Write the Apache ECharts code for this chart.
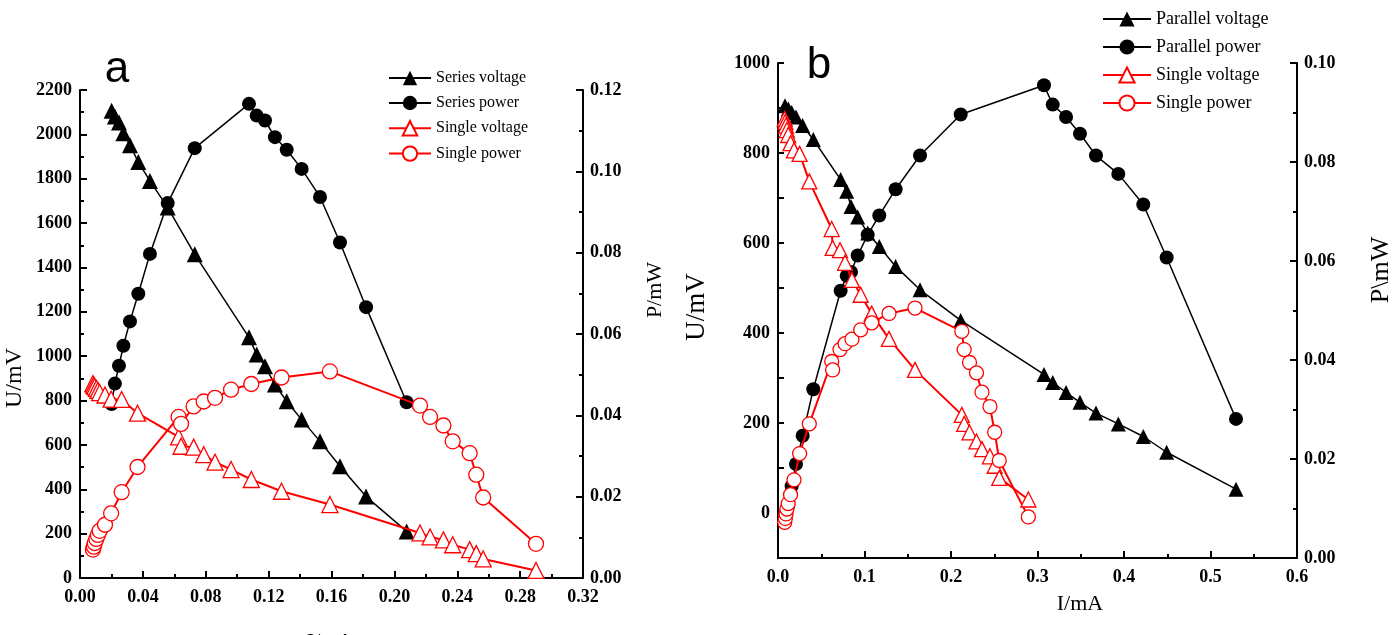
<!DOCTYPE html>
<html>
<head>
<meta charset="utf-8">
<script src="https://cdn.jsdelivr.net/npm/echarts@6/dist/echarts.min.js"></script>
<style>
html,body{margin:0;padding:0;background:#fff;}
#chart{width:1399px;height:635px;}
</style>
</head>
<body>
<div id="chart"></div>
<script>
// ---------- Panel a : series connection ----------
const seriesCurrent = [0.0201, 0.0222, 0.0248, 0.0276, 0.0318, 0.0371, 0.0445, 0.0558, 0.0730, 0.1075, 0.1124, 0.1177, 0.1240, 0.1315, 0.1410, 0.1527, 0.1654, 0.1820, 0.2078];
const seriesVoltage = [2106, 2080, 2053, 2005, 1951, 1875, 1790, 1670, 1459, 1085, 1008, 955, 872, 797, 714, 616, 504, 367, 210];
const seriesPower   = [0.0428, 0.0478, 0.0522, 0.0571, 0.0631, 0.0699, 0.0797, 0.0922, 0.1057, 0.1166, 0.1137, 0.1125, 0.1084, 0.1053, 0.1006, 0.0937, 0.0825, 0.0666, 0.0432];

const singleCurrentA = [0.0082, 0.0088, 0.0094, 0.0104, 0.0114, 0.0125, 0.0159, 0.0198, 0.0265, 0.0366, 0.0627, 0.0643, 0.0723, 0.0787, 0.0859, 0.0961, 0.1090, 0.1282, 0.1590, 0.2163, 0.2227, 0.2312, 0.2371, 0.2479, 0.2521, 0.2565, 0.2901];
const singleVoltageA = [876, 870, 863, 855, 846, 836, 825, 806, 805, 743, 636, 594, 590, 556, 522, 489, 444, 391, 331, 203, 185, 172, 150, 128, 110, 86, 34];
const singlePowerA   = [0.0070, 0.0077, 0.0086, 0.0096, 0.0106, 0.0116, 0.0131, 0.0159, 0.0211, 0.0273, 0.0396, 0.0379, 0.0422, 0.0434, 0.0443, 0.0463, 0.0477, 0.0493, 0.0508, 0.0424, 0.0396, 0.0375, 0.0336, 0.0307, 0.0254, 0.0198, 0.0084];

// ---------- Panel b : parallel connection ----------
const parallelCurrent = [0.0081, 0.0119, 0.0158, 0.0208, 0.0285, 0.0408, 0.0724, 0.0794, 0.0844, 0.0921, 0.1037, 0.1171, 0.1360, 0.1642, 0.2112, 0.3075, 0.3176, 0.3330, 0.3491, 0.3676, 0.3934, 0.4223, 0.4493, 0.5295];
const parallelVoltage = [905, 898, 890, 880, 861, 830, 741, 715, 681, 658, 622, 592, 548, 496, 428, 308, 290, 268, 246, 222, 198, 170, 135, 53];
const parallelPower   = [0.0075, 0.0107, 0.0145, 0.0190, 0.0247, 0.0341, 0.0540, 0.0570, 0.0578, 0.0611, 0.0653, 0.0692, 0.0745, 0.0813, 0.0896, 0.0955, 0.0916, 0.0891, 0.0857, 0.0813, 0.0776, 0.0714, 0.0607, 0.0281];

const singleCurrentB = [0.0078, 0.0085, 0.0093, 0.0103, 0.0118, 0.0145, 0.0185, 0.0250, 0.0362, 0.0621, 0.0632, 0.0717, 0.0775, 0.0855, 0.0956, 0.1083, 0.1283, 0.1584, 0.2125, 0.2152, 0.2214, 0.2295, 0.2358, 0.2450, 0.2505, 0.2558, 0.2894];
const singleVoltageB = [876, 869, 861, 851, 840, 822, 806, 798, 737, 631, 589, 584, 556, 518, 485, 443, 387, 318, 218, 198, 179, 159, 142, 126, 105, 78, 30];
const singlePowerB   = [0.0072, 0.0080, 0.0089, 0.0099, 0.0110, 0.0128, 0.0158, 0.0211, 0.0271, 0.0397, 0.0380, 0.0421, 0.0433, 0.0442, 0.0461, 0.0475, 0.0494, 0.0505, 0.0458, 0.0421, 0.0395, 0.0374, 0.0335, 0.0306, 0.0254, 0.0197, 0.0083];

const legendA = ['Series voltage', 'Series power', 'Single voltage', 'Single power'];
const legendB = ['Parallel voltage', 'Parallel power', 'Single voltage', 'Single power'];

function pairs(xs, ys) { return xs.map((x, i) => [x, ys[i]]); }

const SERIF = '"Liberation Serif", "Times New Roman", serif';
const tickLabel = { color: '#000', fontFamily: SERIF, fontWeight: 'bold', fontSize: 18 };

function valueAxis(opts) {
  return Object.assign({
    type: 'value',
    splitLine: { show: false },
    axisLine: { show: true, onZero: false, lineStyle: { color: '#000', width: 2 } },
    axisTick: { show: true, inside: true, length: 7, lineStyle: { color: '#000', width: 2 } },
    minorTick: { show: true, splitNumber: 2, length: 4, lineStyle: { color: '#000', width: 2 } },
    axisLabel: Object.assign({}, tickLabel)
  }, opts);
}

function mk(name, xi, yi, data, symbol, filled, color, size, lw, z) {
  return {
    name: name, type: 'line', xAxisIndex: xi, yAxisIndex: yi, data: data,
    symbol: symbol, symbolSize: size, showSymbol: true,
    lineStyle: { color: color, width: lw },
    itemStyle: { color: filled ? color : '#fff', borderColor: color, borderWidth: filled ? 0 : 1.3 },
    emphasis: { disabled: true },
    z: z, animation: false
  };
}

const chart = echarts.init(document.getElementById('chart'), null, { renderer: 'canvas' });

const option = {
  animation: false,
  backgroundColor: '#fff',
  grid: [
    { left: 80, top: 90, width: 503, height: 488 },
    { left: 778, top: 63, width: 519, height: 495 }
  ],
  xAxis: [
    valueAxis({ gridIndex: 0, min: 0, max: 0.32, interval: 0.04,
      axisLabel: Object.assign({}, tickLabel, { margin: 10, formatter: v => v.toFixed(2) }) }),
    valueAxis({ gridIndex: 1, min: 0, max: 0.6, interval: 0.1,
      axisLabel: Object.assign({}, tickLabel, { margin: 10, formatter: v => v.toFixed(1) }) })
  ],
  yAxis: [
    valueAxis({ gridIndex: 0, position: 'left', min: 0, max: 2200, interval: 200,
      axisLabel: Object.assign({}, tickLabel, { margin: 8, formatter: v => String(Math.round(v)) }) }),
    valueAxis({ gridIndex: 0, position: 'right', min: 0, max: 0.12, interval: 0.02,
      axisLabel: Object.assign({}, tickLabel, { margin: 7, formatter: v => v.toFixed(2) }) }),
    valueAxis({ gridIndex: 1, position: 'left', min: -100, max: 1000, interval: 100,
      minorTick: { show: false },
      axisTick: { show: true, inside: true, length: 6, lineStyle: { color: '#000', width: 2 } },
      axisLabel: Object.assign({}, tickLabel, { margin: 8,
        formatter: v => (Math.round(v) % 200 === 0 ? String(Math.round(v)) : '') }) }),
    valueAxis({ gridIndex: 1, position: 'right', min: 0, max: 0.10, interval: 0.02,
      axisLabel: Object.assign({}, tickLabel, { margin: 7, formatter: v => v.toFixed(2) }) })
  ],
  legend: [
    {
      data: legendA, orient: 'vertical', left: 388, top: 70, padding: 0,
      itemWidth: 42, itemHeight: 18, itemGap: 9,
      textStyle: { color: '#000', fontFamily: SERIF, fontSize: 16 },
      selectedMode: false
    },
    {
      data: legendB, orient: 'vertical', left: 1102, top: 10, padding: 0,
      itemWidth: 48, itemHeight: 19, itemGap: 10,
      textStyle: { color: '#000', fontFamily: SERIF, fontSize: 18 },
      selectedMode: false
    }
  ],
  series: [
    mk('Series voltage', 0, 0, pairs(seriesCurrent, seriesVoltage), 'triangle', true, '#000', 16, 1.5, 2),
    mk('Series power', 0, 1, pairs(seriesCurrent, seriesPower), 'circle', true, '#000', 14, 1.5, 2),
    mk('Single voltage', 0, 0, pairs(singleCurrentA, singleVoltageA), 'triangle', false, '#ff0000', 16, 2, 3),
    mk('Single power', 0, 1, pairs(singleCurrentA, singlePowerA), 'circle', false, '#ff0000', 15, 2, 3),
    mk('Parallel voltage', 1, 2, pairs(parallelCurrent, parallelVoltage), 'triangle', true, '#000', 15, 1.5, 2),
    mk('Parallel power', 1, 3, pairs(parallelCurrent, parallelPower), 'circle', true, '#000', 14, 1.5, 2),
    mk('Single voltage', 1, 2, pairs(singleCurrentB, singleVoltageB), 'triangle', false, '#ff0000', 15, 2, 3),
    mk('Single power', 1, 3, pairs(singleCurrentB, singlePowerB), 'circle', false, '#ff0000', 14, 2, 3)
  ],
  graphic: [
    { type: 'text', x: 117, y: 70, style: { text: 'a', fontFamily: '"Liberation Sans", Arial, sans-serif', fontSize: 44, fill: '#000', align: 'center', verticalAlign: 'middle' } },
    { type: 'text', x: 819, y: 66, style: { text: 'b', fontFamily: '"Liberation Sans", Arial, sans-serif', fontSize: 44, fill: '#000', align: 'center', verticalAlign: 'middle' } },
    { type: 'text', x: 15, y: 378, rotation: Math.PI / 2, style: { text: 'U/mV', fontFamily: SERIF, fontSize: 24, fill: '#000', align: 'center', verticalAlign: 'middle' } },
    { type: 'text', x: 655, y: 290, rotation: Math.PI / 2, style: { text: 'P/mW', fontFamily: SERIF, fontSize: 22, fill: '#000', align: 'center', verticalAlign: 'middle' } },
    { type: 'text', x: 330, y: 642, style: { text: 'I/mA', fontFamily: SERIF, fontSize: 22, fill: '#000', align: 'center', verticalAlign: 'middle' } },
    { type: 'text', x: 697, y: 307, rotation: Math.PI / 2, style: { text: 'U/mV', fontFamily: SERIF, fontSize: 27, fill: '#000', align: 'center', verticalAlign: 'middle' } },
    { type: 'text', x: 1381, y: 270, rotation: Math.PI / 2, style: { text: 'P\\mW', fontFamily: SERIF, fontSize: 26, fill: '#000', align: 'center', verticalAlign: 'middle' } },
    { type: 'text', x: 1080, y: 604, style: { text: 'I/mA', fontFamily: SERIF, fontSize: 22, fill: '#000', align: 'center', verticalAlign: 'middle' } }
  ]
};

chart.setOption(option);
</script>
</body>
</html>
